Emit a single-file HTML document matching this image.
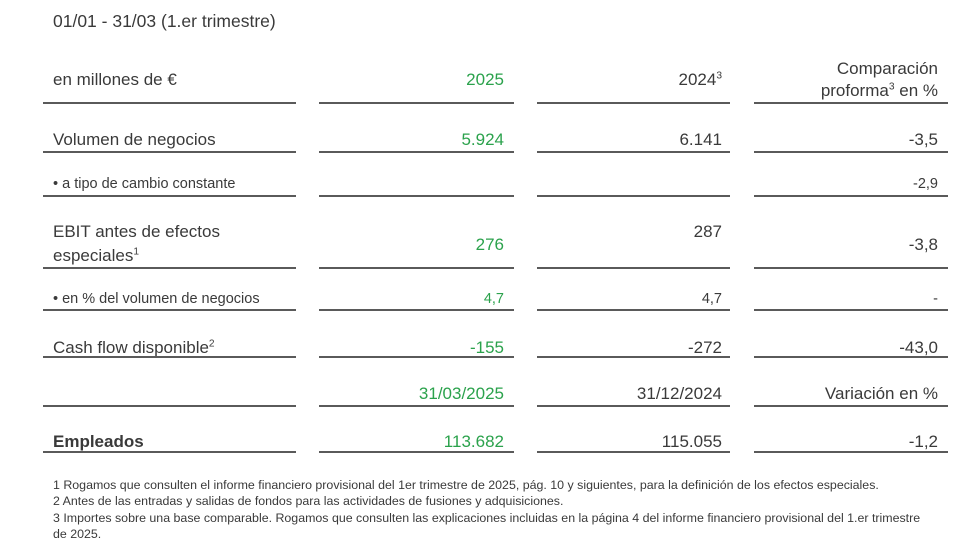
<!DOCTYPE html>
<html><head><meta charset="utf-8"><style>
body{margin:0;background:#fff;}
#c{position:relative;width:980px;height:560px;font-family:"Liberation Sans",sans-serif;color:#3a3a3a;overflow:hidden}
.t{position:absolute;white-space:nowrap;line-height:1}
.r{text-align:right}
.g{color:#2ba24c}
.l{position:absolute;height:2px;background:#5a5a5a}
sup{font-size:60%;vertical-align:super;line-height:0}
.m{font-size:17px}.s{font-size:14.5px}.f{font-size:12.4px}
</style></head><body><div id="c">
<div class="t m" style="left:53px;top:13px;font-size:17.5px">01/01 - 31/03 (1.er trimestre)</div>

<div class="t m" style="left:53px;top:71px">en millones de €</div>
<div class="t m r g" style="right:476px;top:71px">2025</div>
<div class="t m r" style="right:258px;top:71px">2024<sup>3</sup></div>
<div class="t m r" style="right:42px;top:60px">Comparación</div>
<div class="t m r" style="right:42px;top:82px">proforma<sup>3</sup> en %</div>

<div class="t m" style="left:53px;top:131px">Volumen de negocios</div>
<div class="t m r g" style="right:476px;top:131px">5.924</div>
<div class="t m r" style="right:258px;top:131px">6.141</div>
<div class="t m r" style="right:42px;top:131px">-3,5</div>

<div class="t s" style="left:53px;top:177px">• a tipo de cambio constante</div>
<div class="t s r" style="right:42px;top:177px">-2,9</div>

<div class="t m" style="left:53px;top:223px">EBIT antes de efectos</div>
<div class="t m" style="left:53px;top:247px">especiales<sup>1</sup></div>
<div class="t m r g" style="right:476px;top:236px">276</div>
<div class="t m r" style="right:258px;top:223px">287</div>
<div class="t m r" style="right:42px;top:236px">-3,8</div>

<div class="t s" style="left:53px;top:292px">• en % del volumen de negocios</div>
<div class="t s r g" style="right:476px;top:292px">4,7</div>
<div class="t s r" style="right:258px;top:292px">4,7</div>
<div class="t s r" style="right:42px;top:292px">-</div>

<div class="t m" style="left:53px;top:339px">Cash flow disponible<sup>2</sup></div>
<div class="t m r g" style="right:476px;top:339px">-155</div>
<div class="t m r" style="right:258px;top:339px">-272</div>
<div class="t m r" style="right:42px;top:339px">-43,0</div>

<div class="t m r g" style="right:476px;top:385px">31/03/2025</div>
<div class="t m r" style="right:258px;top:385px">31/12/2024</div>
<div class="t m r" style="right:42px;top:385px">Variación en %</div>

<div class="t m" style="left:53px;top:433px;font-weight:bold">Empleados</div>
<div class="t m r g" style="right:476px;top:433px">113.682</div>
<div class="t m r" style="right:258px;top:433px">115.055</div>
<div class="t m r" style="right:42px;top:433px">-1,2</div>

<div class="t f" style="left:53px;top:479px">1 Rogamos que consulten el informe financiero provisional del 1er trimestre de 2025, pág. 10 y siguientes, para la definición de los efectos especiales.</div>
<div class="t f" style="left:53px;top:495px">2 Antes de las entradas y salidas de fondos para las actividades de fusiones y adquisiciones.</div>
<div class="t f" style="left:53px;top:512px">3 Importes sobre una base comparable. Rogamos que consulten las explicaciones incluidas en la página 4 del informe financiero provisional del 1.er trimestre</div>
<div class="t f" style="left:53px;top:528px">de 2025.</div>

<div id="lines"></div>
</div>
<script>
var ys=[102,151,195,267,309,356,405,451],xs=[[43,296],[319,514],[537,730],[754,948]],h='';
ys.forEach(function(y){xs.forEach(function(x){h+='<div class="l" style="top:'+y+'px;left:'+x[0]+'px;width:'+(x[1]-x[0])+'px"></div>';});});
document.getElementById('lines').innerHTML=h;
</script>
</body></html>
